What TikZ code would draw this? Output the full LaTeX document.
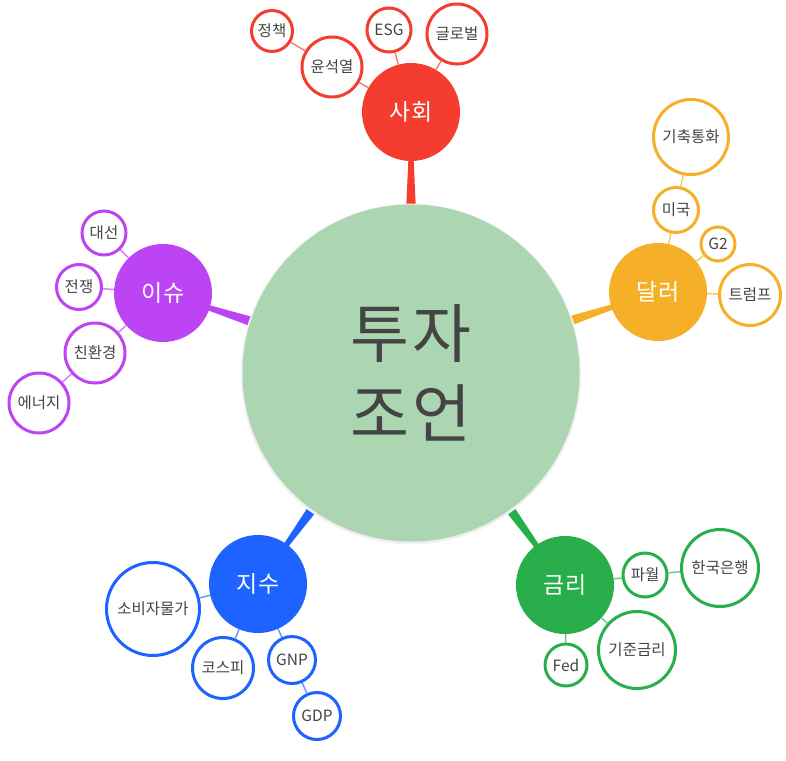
\documentclass[tikz,border=0pt]{standalone}
\usepackage{fontspec}
\setmainfont{Noto Sans CJK KR}
\newfontfamily\corefont[LetterSpace=6]{Noto Sans CJK KR}
\usetikzlibrary{calc}
\pgfdeclarelayer{bg}
\pgfsetlayers{bg,main}
\definecolor{cred}{HTML}{F43D2F}
\definecolor{corange}{HTML}{F5B027}
\definecolor{cpurple}{HTML}{BC44F5}
\definecolor{cblue}{HTML}{1E63FF}
\definecolor{cgreen}{HTML}{28AF4B}
\definecolor{ccenter}{HTML}{ACD5B2}
\definecolor{textc}{HTML}{444444}
\tikzset{
  hub/.style={circle, fill=#1, text=white, inner sep=0pt, minimum size=98pt,
    font=\fontsize{23}{27}\selectfont},
  leaf/.style n args={2}{circle, draw=#1, line width=3pt, fill=white, inner sep=0pt,
    minimum size=#2pt, text=textc, font=\fontsize{15.5}{18}\selectfont},
  link/.style={draw=#1!70, line width=1.4pt},
  core/.style={circle, fill=ccenter, inner sep=0pt, minimum size=337pt, text=textc,
    align=center, font=\corefont\fontsize{64}{80}\selectfont},
}
\newcommand\mytaper[3]{%
  \coordinate (tA) at ($(#1)!150pt!(#2)$);
  \coordinate (tB) at ($(#2)!40pt!(#1)$);
  \fill[#3] ($(tA)!5.5pt!90:(tB)$) -- ($(tB)!2.3pt!-90:(tA)$) --
    ($(tB)!2.3pt!90:(tA)$) -- ($(tA)!5.5pt!-90:(tB)$) -- cycle;
}
\begin{document}
\begin{tikzpicture}[x=1pt,y=-1pt]
\useasboundingbox (0,0) rectangle (786,760);
% centre
\fill[black!4] (411,374) circle (170.5pt);
\fill[black!7] (411,374) circle (169.3pt);
\node[core] (c) at (411,373) {투자\\조언};
% hubs
\node[hub=cred] (soc) at (411,112) {사회};
\node[hub=corange] (dol) at (658,292) {달러};
\node[hub=cpurple] (iss) at (163,293) {이슈};
\node[hub=cblue] (idx) at (258,584) {지수};
\node[hub=cgreen] (rat) at (565,585) {금리};
% leaves: society
\node[leaf={cred}{41}] (s1) at (272,31) {정책};
\node[leaf={cred}{60}] (s2) at (332,67) {윤석열};
\node[leaf={cred}{44}] (s3) at (389,30) {ESG};
\node[leaf={cred}{60}] (s4) at (457,34) {글로벌};
% dollar
\node[leaf={corange}{75}] (d1) at (691,137) {기축통화};
\node[leaf={corange}{45}] (d2) at (676,210) {미국};
\node[leaf={corange}{34}] (d3) at (718,244) {G2};
\node[leaf={corange}{61}] (d4) at (750,295) {트럼프};
% issue
\node[leaf={cpurple}{44}] (i1) at (104,233) {대선};
\node[leaf={cpurple}{45}] (i2) at (79,287) {전쟁};
\node[leaf={cpurple}{60}] (i3) at (95,353) {친환경};
\node[leaf={cpurple}{60}] (i4) at (39,403) {에너지};
% index
\node[leaf={cblue}{93}] (x1) at (153,609) {소비자물가};
\node[leaf={cblue}{61}] (x2) at (223,668) {코스피};
\node[leaf={cblue}{47}] (x3) at (292,660) {GNP};
\node[leaf={cblue}{47}] (x4) at (317,716) {GDP};
% rate
\node[leaf={cgreen}{44}] (r1) at (645,575) {파월};
\node[leaf={cgreen}{77}] (r2) at (720,568) {한국은행};
\node[leaf={cgreen}{77}] (r3) at (637,650) {기준금리};
\node[leaf={cgreen}{42}] (r4) at (566,665) {Fed};
% connectors
\begin{pgfonlayer}{bg}
\mytaper{c}{soc}{cred}
\mytaper{c}{dol}{corange}
\mytaper{c}{iss}{cpurple}
\mytaper{c}{idx}{cblue}
\mytaper{c}{rat}{cgreen}
\draw[link=cred] (s1) -- (s2);
\draw[link=cred] (s2) -- (soc);
\draw[link=cred] (s3) -- (soc);
\draw[link=cred] (s4) -- (soc);
\draw[link=corange] (d1) -- (d2);
\draw[link=corange] (d2) -- (dol);
\draw[link=corange] (d3) -- (dol);
\draw[link=corange] (d4) -- (dol);
\draw[link=cpurple] (i1) -- (iss);
\draw[link=cpurple] (i2) -- (iss);
\draw[link=cpurple] (i3) -- (iss);
\draw[link=cpurple] (i4) -- (i3);
\draw[link=cblue] (x1) -- (idx);
\draw[link=cblue] (x2) -- (idx);
\draw[link=cblue] (x3) -- (idx);
\draw[link=cblue] (x4) -- (x3);
\draw[link=cgreen] (r1) -- (rat);
\draw[link=cgreen] (r2) -- (r1);
\draw[link=cgreen] (r3) -- (rat);
\draw[link=cgreen] (r4) -- (rat);
\end{pgfonlayer}
\end{tikzpicture}
\end{document}
